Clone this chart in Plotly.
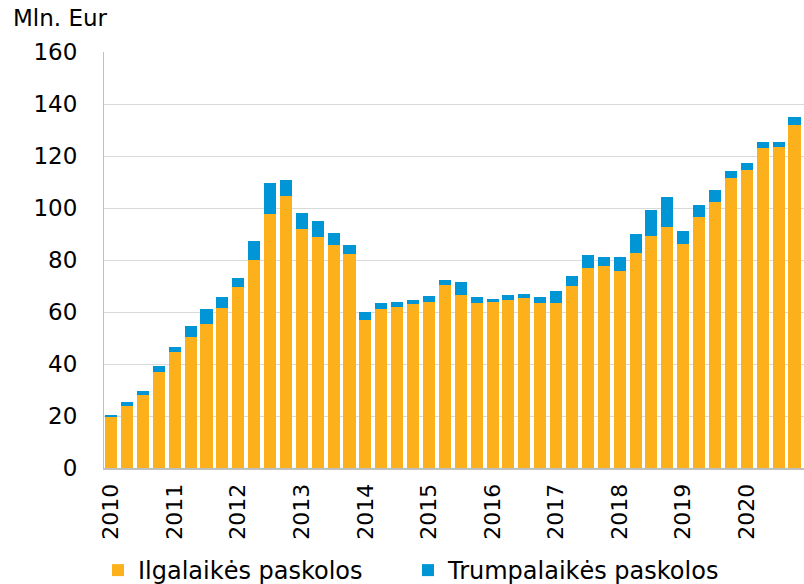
import plotly.graph_objects as go

# quarterly data, 2010 Q1 - 2020 Q4 (mln. EUR)
years = list(range(2010, 2021))
quarters = [f"{y} Q{q}" for y in years for q in range(1, 5)]

long_term = [
    19.5, 24.0, 28.1, 36.9,
    44.5, 50.5, 55.3, 61.5,
    69.6, 80.0, 97.7, 104.6,
    91.8, 88.7, 85.6, 82.2,
    56.9, 61.0, 61.8, 63.2,
    63.8, 70.3, 66.4, 63.5,
    63.7, 64.7, 65.3, 63.6,
    63.4, 69.9, 77.1, 77.6,
    75.6, 82.6, 89.4, 92.7,
    86.3, 96.4, 102.4, 111.7,
    114.7, 123.1, 123.3, 131.9,
]
total = [
    20.4, 25.5, 29.7, 39.4,
    46.5, 54.5, 61.0, 65.6,
    72.9, 87.2, 109.6, 110.8,
    98.2, 94.9, 90.3, 85.9,
    60.1, 63.5, 63.8, 64.7,
    66.0, 72.3, 71.5, 65.9,
    65.1, 66.7, 67.1, 65.8,
    68.1, 74.0, 82.1, 81.3,
    81.0, 90.1, 99.4, 104.4,
    91.2, 101.3, 107.1, 114.1,
    117.4, 125.4, 125.5, 135.0,
]
short_term = [round(t - l, 1) for t, l in zip(total, long_term)]

labels = ["Ilgalaikės paskolos", "Trumpalaikės paskolos"]
colors = ["#FCB11C", "#0096D6"]
font_family = "Verdana, DejaVu Sans, sans-serif"

x = list(range(len(quarters)))

fig = go.Figure()
for vals, name, col in zip([long_term, short_term], labels, colors):
    fig.add_trace(
        go.Bar(
            x=x,
            y=vals,
            name=name,
            customdata=quarters,
            hovertemplate="%{customdata}<br>%{y}<extra></extra>",
            marker=dict(color=col, line=dict(width=0)),
        )
    )

# plot area: x 104..804, y 52..468 (pixels); the figure is a few px taller
# than the window so the legend sits as low as in the original
fig_h = 593
fig.update_layout(
    width=804,
    height=fig_h,
    barmode="stack",
    bargap=0.24,
    plot_bgcolor="white",
    paper_bgcolor="white",
    font=dict(family=font_family, size=23, color="#000000"),
    margin=dict(l=104, r=0, t=52, b=fig_h - 468),
    showlegend=True,
    legend=dict(
        orientation="h",
        traceorder="normal",
        x=98 / 804,
        xref="container",
        y=0.0,
        yref="container",
        yanchor="bottom",
        xanchor="left",
        font=dict(size=24),
        itemwidth=30,
        entrywidth=265,
        entrywidthmode="pixels",
    ),
    annotations=[
        dict(
            text="Mln. Eur",
            xref="paper",
            yref="paper",
            x=(11 - 104) / 700,
            y=(468 - 18) / 416,
            xanchor="left",
            yanchor="middle",
            showarrow=False,
            font=dict(size=23),
        )
    ],
)

fig.update_xaxes(
    range=[-0.45, 43.6],
    tickmode="array",
    tickvals=[i * 4 for i in range(len(years))],
    ticktext=[str(y) for y in years],
    tickangle=-90,
    tickfont=dict(size=22),
    showgrid=False,
    showline=True,
    linecolor="#BFBFBF",
    linewidth=2,
    ticks="outside",
    ticklen=5,
    tickcolor="rgba(0,0,0,0)",
    automargin=False,
)
fig.update_yaxes(
    range=[0, 160],
    dtick=20,
    showgrid=True,
    gridcolor="#D9D9D9",
    gridwidth=1,
    showline=True,
    linecolor="#BFBFBF",
    linewidth=1,
    zeroline=False,
    ticks="",
    ticklabelstandoff=21,
    tickfont=dict(size=23),
    automargin=False,
)

# drop the default page margin and scrollbars so the figure fills the window
fig.write_html(
    "out.html",
    config={"displayModeBar": False},
    post_script="document.body.style.margin = '0px'; document.body.style.overflow = 'hidden';",
)
